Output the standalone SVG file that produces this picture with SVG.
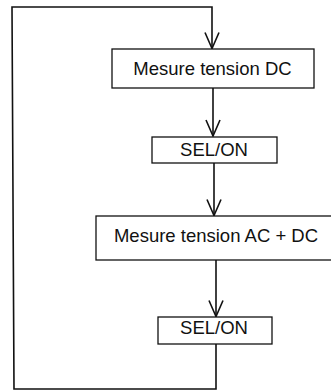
<svg xmlns="http://www.w3.org/2000/svg" width="331" height="392" viewBox="0 0 331 392">
<defs>
<style>
.box{fill:#fff;stroke:#111;stroke-width:1.3}
.lbl{font-family:"Liberation Sans",Arial,sans-serif;font-size:18.5px;fill:#111;text-anchor:middle}
.con{fill:none;stroke:#111;stroke-width:1.6}
</style>
<marker id="v" viewBox="-17 -8 18 16" markerWidth="18" markerHeight="16" refX="0" refY="0" orient="auto" markerUnits="userSpaceOnUse">
<path d="M-16,-7 L0,0 L-16,7" fill="none" stroke="#111" stroke-width="1.6"/>
</marker>
</defs>
<g id="connectors">
<path class="con" d="M216,344 L216,389 L14,389 L12,7 L212,7 L212,48.5" marker-end="url(#v)"/>
<path class="con" d="M213,88 L213,136" marker-end="url(#v)"/>
<path class="con" d="M214,163 L214,215.5" marker-end="url(#v)"/>
<path class="con" d="M216,260 L216,316.5" marker-end="url(#v)"/>
</g>
<g id="node1">
<rect class="box" x="112" y="49" width="202" height="39"/>
<text class="lbl" x="212.5" y="75">Mesure tension DC</text>
</g>
<g id="node2">
<rect class="box" x="152" y="137" width="125" height="26"/>
<text class="lbl" x="214" y="156">SEL/ON</text>
</g>
<g id="node3">
<rect class="box" x="96" y="216" width="240" height="44"/>
<text class="lbl" x="216" y="242">Mesure tension AC + DC</text>
</g>
<g id="node4">
<rect class="box" x="158" y="317" width="114" height="27"/>
<text class="lbl" x="214" y="334">SEL/ON</text>
</g>
</svg>
